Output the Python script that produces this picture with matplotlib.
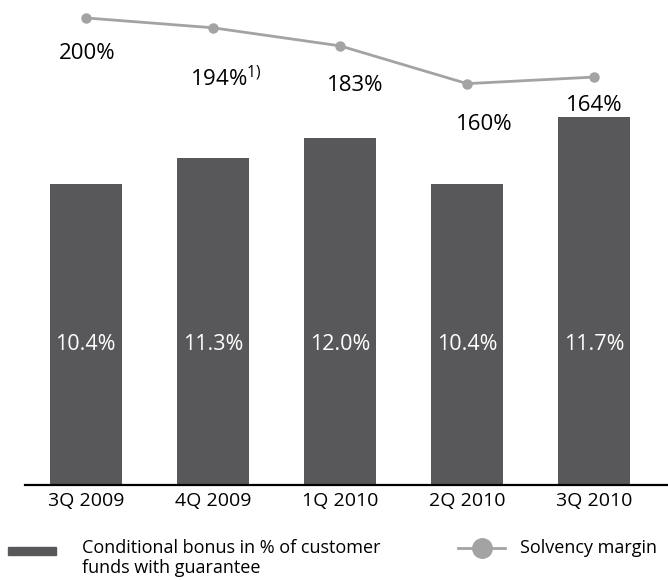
import matplotlib
matplotlib.use("Agg")
import matplotlib.pyplot as plt
from matplotlib.patches import Rectangle
from matplotlib.lines import Line2D

plt.rcParams['font.family'] = ['Open Sans', 'DejaVu Sans']

# data
quarters = ['3Q 2009', '4Q 2009', '1Q 2010', '2Q 2010', '3Q 2010']
bonus_bar = [10.4, 11.3, 12.0, 10.4, 12.7]      # bar heights as drawn
bonus_text = ['10.4%', '11.3%', '12.0%', '10.4%', '11.7%']
solvency = [200, 194, 183, 160, 164]
solvency_text = ['200%', '194%$^{\\mathregular{1)}}$', '183%', '160%', '164%']

bar_col = '#58585a'
line_col = '#a3a3a3'

fig = plt.figure(figsize=(6.68, 5.8), dpi=100)
ax = fig.add_axes([0.037, 0.164, 0.963, 0.836])
x = list(range(len(quarters)))

ax.bar(x, bonus_bar, width=0.57, color=bar_col, zorder=2)
for xi, t in zip(x, bonus_text):
    ax.text(xi, 4.85, t, color='white', ha='center', va='center', fontsize=15.5)

ax.set_xlim(-0.48, 4.58)
ax.set_ylim(0, 16.75)
ax.set_xticks(x)
ax.set_xticklabels(quarters, fontsize=14)
ax.tick_params(axis='x', length=0, pad=5)
ax.set_yticks([])
for s in ['top', 'right', 'left']:
    ax.spines[s].set_visible(False)
ax.spines['bottom'].set_linewidth(1.6)
ax.spines['bottom'].set_zorder(3)

# solvency margin on its own scale
ax2 = ax.twinx()
ax2.plot(x, solvency, color=line_col, lw=2, marker='o', ms=6.5, zorder=3)
ax2.set_ylim(-84.2, 210.9)
ax2.axis('off')

label_dx = [1, 9, 11, 12, 0]
label_dy = [-25.5, -36.5, -28.5, -29.5, -20.5]
for xi, v, t, dx, dy in zip(x, solvency, solvency_text, label_dx, label_dy):
    ax2.annotate(t, (xi, v), xytext=(dx, dy), textcoords='offset points',
                 ha='center', va='center', fontsize=16)

# legend drawn by hand at the bottom
fig.add_artist(Rectangle((0.012, 0.043), 0.072, 0.014, transform=fig.transFigure,
                         color=bar_col))
fig.text(0.123, 0.038, 'Conditional bonus in % of customer\nfunds with guarantee',
         fontsize=13, va='center', ha='left', linespacing=1.1)
fig.add_artist(Line2D([0.686, 0.756], [0.055, 0.055], transform=fig.transFigure,
                      color=line_col, lw=2))
fig.add_artist(Line2D([0.721], [0.055], transform=fig.transFigure,
                      color=line_col, marker='o', ms=14))
fig.text(0.778, 0.055, 'Solvency margin', fontsize=13, va='center', ha='left')

fig.savefig('out.png', dpi=100)
